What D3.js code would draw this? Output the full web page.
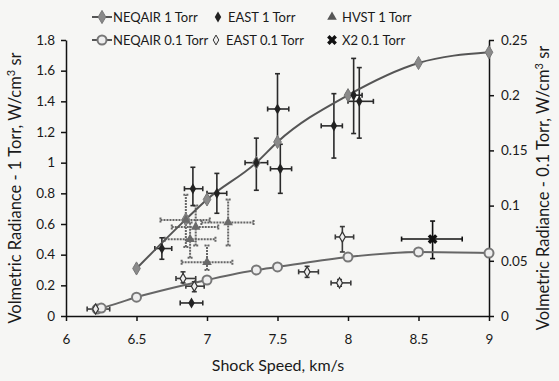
<!DOCTYPE html>
<html>
<head>
<meta charset="utf-8">
<script src="https://cdn.jsdelivr.net/npm/d3@7"></script>
<style>
  body { margin: 0; background: #f6f6f4; }
  text { font-family: Lato, "Open Sans", sans-serif; fill: #1a1a1a; }
</style>
</head>
<body>
<div id="chart"></div>
<script>
// NEQAIR calculations
const neqair1Speed = [6.5, 6.85, 7.0, 7.35, 7.5, 8.0, 8.5, 9.0];
const neqair1Rad = [0.31, 0.63, 0.76, 1.0, 1.135, 1.44, 1.65, 1.72];
const neqair01Speed = [6.22, 6.25, 6.5, 7.0, 7.35, 7.5, 8.0, 8.5, 9.0];
const neqair01Rad = [0.0063, 0.0072, 0.017, 0.0326, 0.0417, 0.0444, 0.0534, 0.058, 0.057];

// EAST 1 Torr
const east1Speed = [6.68, 6.90, 7.07, 7.35, 7.50, 7.52, 7.90, 8.04, 8.08, 6.89];
const east1Rad = [0.44, 0.83, 0.80, 1.0, 1.35, 0.96, 1.24, 1.44, 1.40, 0.085];
const east1SpeedLo = [6.63, 6.84, 7.00, 7.27, 7.43, 7.45, 7.81, 7.99, 8.00, 6.81];
const east1SpeedHi = [6.75, 6.97, 7.14, 7.43, 7.58, 7.60, 7.96, 8.10, 8.18, 6.97];
const east1RadLo = [0.37, 0.72, 0.67, 0.82, 1.12, 0.80, 1.03, 1.19, 1.16, 0.085];
const east1RadHi = [0.51, 0.97, 0.93, 1.16, 1.58, 1.12, 1.45, 1.68, 1.62, 0.085];

// HVST 1 Torr
const hvstSpeed = [6.85, 6.92, 6.88, 7.15, 7.0];
const hvstRad = [0.626, 0.58, 0.50, 0.61, 0.35];
const hvstSpeedLo = [6.67, 6.75, 6.70, 6.96, 6.82];
const hvstSpeedHi = [7.02, 7.08, 7.06, 7.33, 7.18];
const hvstRadLo = [0.45, 0.46, 0.38, 0.46, 0.30];
const hvstRadHi = [0.79, 0.72, 0.61, 0.76, 0.46];

// EAST 0.1 Torr
const east01Speed = [6.21, 6.83, 6.91, 7.71, 7.96, 7.94];
const east01Rad = [0.0063, 0.034, 0.027, 0.040, 0.0716, 0.030];
const east01SpeedLo = [6.15, 6.78, 6.85, 7.65, 7.91, 7.88];
const east01SpeedHi = [6.31, 6.92, 6.98, 7.79, 8.04, 8.02];
const east01RadLo = [0.0063, 0.030, 0.022, 0.035, 0.058, 0.027];
const east01RadHi = [0.0063, 0.040, 0.031, 0.045, 0.081, 0.033];

// X2 0.1 Torr
const x2Speed = [8.6];
const x2Rad = [0.0697];
const x2SpeedLo = [8.38];
const x2SpeedHi = [8.81];
const x2RadLo = [0.052];
const x2RadHi = [0.086];

const xTicks = [6, 6.5, 7, 7.5, 8, 8.5, 9];
const yLeftTicks = [0, 0.2, 0.4, 0.6, 0.8, 1, 1.2, 1.4, 1.6, 1.8];
const yRightTicks = [0, 0.05, 0.1, 0.15, 0.2, 0.25];

const W = 559, H = 381;
const svg = d3.select("#chart").append("svg")
    .attr("width", W).attr("height", H);

const x = d3.scaleLinear().domain([6, 9]).range([66, 489]);
const yL = d3.scaleLinear().domain([0, 1.8]).range([316, 40]);
const yR = d3.scaleLinear().domain([0, 0.25]).range([316, 40]);

// axes
const gx = svg.append("g").attr("transform", "translate(0,316)")
    .call(d3.axisBottom(x).tickValues(xTicks).tickFormat(d3.format("")).tickSize(5).tickSizeOuter(0).tickPadding(13));
const gl = svg.append("g").attr("transform", "translate(66,0)")
    .call(d3.axisLeft(yL).tickValues(yLeftTicks).tickFormat(d3.format("")).tickSize(5).tickSizeOuter(0).tickPadding(6));
const gr = svg.append("g").attr("transform", "translate(489,0)")
    .call(d3.axisRight(yR).tickValues(yRightTicks).tickFormat(d3.format("")).tickSize(5).tickSizeOuter(0).tickPadding(7));
[gx, gl, gr].forEach(g => {
    g.selectAll("path, line").attr("stroke", "#111").attr("stroke-width", 1.5);
    g.selectAll("text").style("font-size", "13.5px").style("font-family", "Lato, sans-serif").attr("fill", "#1a1a1a");
});

// titles
svg.append("text").attr("x", 278).attr("y", 371).attr("text-anchor", "middle")
    .style("font-size", "16px").text("Shock Speed, km/s");
const lt = svg.append("text").attr("transform", "translate(21,188) rotate(-90)")
    .attr("text-anchor", "middle").style("font-size", "16.5px");
lt.append("tspan").text("Volmetric Radiance - 1 Torr, W/cm");
lt.append("tspan").attr("dy", -6).style("font-size", "11px").text("3");
lt.append("tspan").attr("dy", 6).text(" sr");
const rt = svg.append("text").attr("transform", "translate(549,188) rotate(-90)")
    .attr("text-anchor", "middle").style("font-size", "16.5px");
rt.append("tspan").text("Volmetric Radiance - 0.1 Torr, W/cm");
rt.append("tspan").attr("dy", -6).style("font-size", "11px").text("3");
rt.append("tspan").attr("dy", 6).text(" sr");

// error bars helper
function errorBars(sp, rad, spLo, spHi, rLo, rHi, y, color, dash, width) {
    const g = svg.append("g").attr("stroke", color).attr("stroke-width", width || 1.6)
        .attr("stroke-dasharray", dash || null);
    const idx = d3.range(sp.length);
    g.selectAll(".h").data(idx).join("line")
        .attr("x1", i => x(spLo[i])).attr("x2", i => x(spHi[i]))
        .attr("y1", i => y(rad[i])).attr("y2", i => y(rad[i]));
    g.selectAll(".hc").data(idx.flatMap(i => [[spLo[i], rad[i]], [spHi[i], rad[i]]])).join("line")
        .attr("x1", d => x(d[0])).attr("x2", d => x(d[0]))
        .attr("y1", d => y(d[1]) - 2.5).attr("y2", d => y(d[1]) + 2.5);
    const vIdx = idx.filter(i => rHi[i] !== rLo[i]);
    g.selectAll(".v").data(vIdx).join("line")
        .attr("x1", i => x(sp[i])).attr("x2", i => x(sp[i]))
        .attr("y1", i => y(rLo[i])).attr("y2", i => y(rHi[i]));
    g.selectAll(".vc").data(vIdx.flatMap(i => [[sp[i], rLo[i]], [sp[i], rHi[i]]])).join("line")
        .attr("x1", d => x(d[0]) - 2.5).attr("x2", d => x(d[0]) + 2.5)
        .attr("y1", d => y(d[1])).attr("y2", d => y(d[1]));
}

errorBars(hvstSpeed, hvstRad, hvstSpeedLo, hvstSpeedHi, hvstRadLo, hvstRadHi, yL, "#666", "2,1", 2);
errorBars(east1Speed, east1Rad, east1SpeedLo, east1SpeedHi, east1RadLo, east1RadHi, yL, "#2a2a2a");
errorBars(east01Speed, east01Rad, east01SpeedLo, east01SpeedHi, east01RadLo, east01RadHi, yR, "#3a3a3a");
errorBars(x2Speed, x2Rad, x2SpeedLo, x2SpeedHi, x2RadLo, x2RadHi, yR, "#111");

// NEQAIR lines
const line1 = d3.line().x((d, i) => x(neqair1Speed[i])).y(d => yL(d)).curve(d3.curveMonotoneX);
svg.append("path").attr("d", line1(neqair1Rad)).attr("fill", "none")
    .attr("stroke", "#555").attr("stroke-width", 2);
const line01 = d3.line().x((d, i) => x(neqair01Speed[i])).y(d => yR(d)).curve(d3.curveMonotoneX);
svg.append("path").attr("d", line01(neqair01Rad)).attr("fill", "none")
    .attr("stroke", "#666").attr("stroke-width", 2);

const tri = d3.symbol().type(d3.symbolTriangle).size(40);

// markers
svg.append("g").selectAll("path").data(neqair1Rad).join("path")
    .attr("transform", (d, i) => `translate(${x(neqair1Speed[i])},${yL(d)})`)
    .attr("d", d3.symbol().type(d3.symbolDiamond).size(50)()).attr("fill", "#8a8a8a").attr("stroke", "#777").attr("stroke-width", 1);
svg.append("g").selectAll("circle").data(neqair01Rad).join("circle")
    .attr("cx", (d, i) => x(neqair01Speed[i])).attr("cy", d => yR(d)).attr("r", 4.5)
    .attr("fill", "#eee").attr("stroke", "#777").attr("stroke-width", 2);
svg.append("g").selectAll("path").data(hvstRad).join("path")
    .attr("transform", (d, i) => `translate(${x(hvstSpeed[i])},${yL(d)})`)
    .attr("d", tri()).attr("fill", "#6a6a6a");
svg.append("g").selectAll("path").data(east1Rad).join("path")
    .attr("transform", (d, i) => `translate(${x(east1Speed[i])},${yL(d)})`)
    .attr("d", d3.symbol().type(d3.symbolDiamond).size(36)()).attr("fill", "#222");
svg.append("g").selectAll("path").data(east01Rad).join("path")
    .attr("transform", (d, i) => `translate(${x(east01Speed[i])},${yR(d)})`)
    .attr("d", d3.symbol().type(d3.symbolDiamond).size(30)()).attr("fill", "#eee").attr("stroke", "#333").attr("stroke-width", 1.2);
svg.append("g").selectAll("path").data(x2Rad).join("path")
    .attr("transform", (d, i) => `translate(${x(x2Speed[i])},${yR(d)}) rotate(45)`)
    .attr("d", d3.symbol().type(d3.symbolCross).size(60)()).attr("fill", "#111");

// legend
const lg = svg.append("g").style("font-size", "13px");
const row1 = 17, row2 = 40;
[[row1, "#8a8a8a", "NEQAIR 1 Torr"], [row2, null, "NEQAIR 0.1 Torr"]].forEach(([yy, f, label]) => {
    lg.append("line").attr("x1", 92).attr("x2", 112).attr("y1", yy).attr("y2", yy)
        .attr("stroke", "#555").attr("stroke-width", 2);
    if (f) lg.append("path").attr("transform", `translate(102,${yy})`)
        .attr("d", d3.symbol().type(d3.symbolDiamond).size(50)()).attr("fill", f).attr("stroke", "#777");
    else lg.append("circle").attr("cx", 102).attr("cy", yy).attr("r", 4.5)
        .attr("fill", "#eee").attr("stroke", "#777").attr("stroke-width", 2);
    lg.append("text").attr("x", 113).attr("y", yy + 5).text(label);
});
lg.append("path").attr("transform", `translate(218,${row1})`)
    .attr("d", d3.symbol().type(d3.symbolDiamond).size(36)()).attr("fill", "#222");
lg.append("text").attr("x", 228).attr("y", row1 + 5).text("EAST 1 Torr");
lg.append("path").attr("transform", `translate(216,${row2})`)
    .attr("d", d3.symbol().type(d3.symbolDiamond).size(28)()).attr("fill", "#eee").attr("stroke", "#333");
lg.append("text").attr("x", 226).attr("y", row2 + 5).text("EAST 0.1 Torr");
lg.append("path").attr("transform", `translate(332,${row1})`)
    .attr("d", tri()).attr("fill", "#555");
lg.append("text").attr("x", 342).attr("y", row1 + 5).text("HVST 1 Torr");
lg.append("path").attr("transform", `translate(332,${row2}) rotate(45)`)
    .attr("d", d3.symbol().type(d3.symbolCross).size(60)()).attr("fill", "#111");
lg.append("text").attr("x", 342).attr("y", row2 + 5).text("X2 0.1 Torr");
</script>
</body>
</html>
